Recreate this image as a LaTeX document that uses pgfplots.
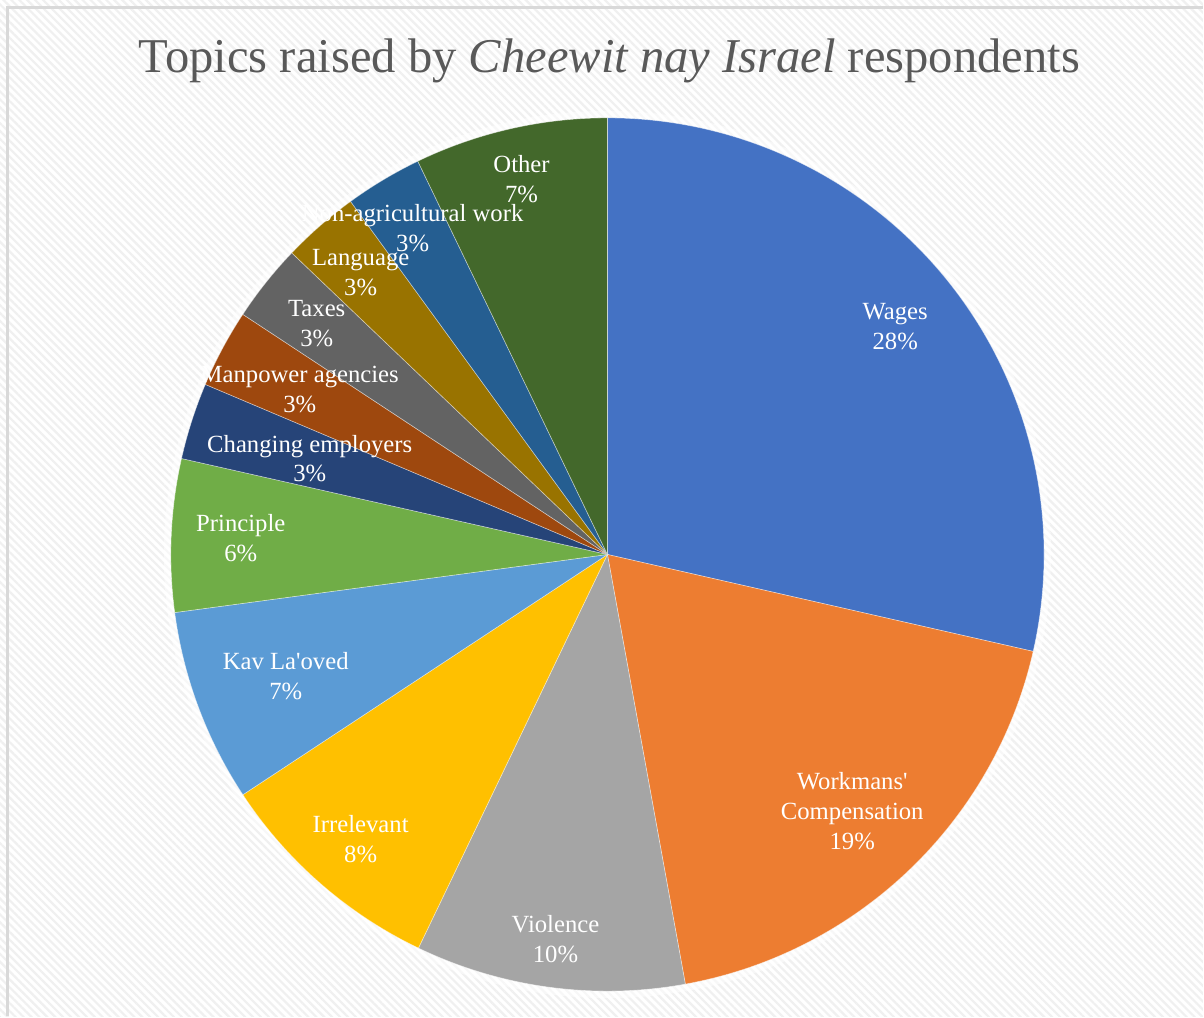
\documentclass[border=0pt]{standalone}
\usepackage{pgfplots}
\pgfplotsset{compat=1.18}
\usepackage{pgfplotstable}
\usepackage{fontspec}
\setmainfont{Liberation Serif}
\usetikzlibrary{patterns.meta}

\definecolor{cWages}{HTML}{4472C4}
\definecolor{cWork}{HTML}{ED7D31}
\definecolor{cViol}{HTML}{A5A5A5}
\definecolor{cIrr}{HTML}{FFC000}
\definecolor{cKav}{HTML}{5B9BD5}
\definecolor{cPrin}{HTML}{70AD47}
\definecolor{cChg}{HTML}{264478}
\definecolor{cMan}{HTML}{9E480E}
\definecolor{cTax}{HTML}{636363}
\definecolor{cLang}{HTML}{997300}
\definecolor{cNon}{HTML}{255E91}
\definecolor{cOth}{HTML}{43682B}
\definecolor{titlegray}{HTML}{595959}
\definecolor{bordergray}{HTML}{D9D9D9}

% share of each topic (percent), clockwise from 12 o'clock
\pgfplotstableread{
value color
28.56 cWages
18.58 cWork
9.98  cViol
8.60  cIrr
7.15  cKav
5.65  cPrin
2.84  cChg
2.90  cMan
2.87  cTax
2.85  cLang
2.86  cNon
7.15  cOth
}\piedata

\pgfplotstablegetrowsof{\piedata}
\pgfmathtruncatemacro{\lastrow}{\pgfplotsretval-1}
\xdef\pietotal{0}
\foreach \i in {0,...,\lastrow}{%
  \pgfplotstablegetelem{\i}{value}\of\piedata
  \pgfmathsetmacro{\t}{\pietotal+\pgfplotsretval}%
  \xdef\pietotal{\t}%
}
\xdef\piecum{90}
\foreach \i in {0,...,\lastrow}{%
  \pgfplotstablegetelem{\i}{value}\of\piedata
  \pgfmathsetmacro{\e}{\piecum-360*\pgfplotsretval/\pietotal}%
  \expandafter\xdef\csname psa\i\endcsname{\piecum}%
  \expandafter\xdef\csname pea\i\endcsname{\e}%
  \pgfplotstablegetelem{\i}{color}\of\piedata
  \expandafter\xdef\csname pcol\i\endcsname{\pgfplotsretval}%
  \xdef\piecum{\e}%
}

\begin{document}
\begin{tikzpicture}
\begin{axis}[
  width=602bp, height=508.5bp, scale only axis,
  xmin=0, xmax=1204, ymin=0, ymax=1017,
  axis lines=none, ticks=none, clip=false,
]
% background
\fill[white] (axis cs:0,0) rectangle (axis cs:1204,1017);
\fill[pattern={Lines[angle=-45,distance=2.8bp,line width=1.1bp]}, pattern color=black!6]
  (axis cs:0,0) rectangle (axis cs:1204,1017);
\draw[bordergray, line width=1.1bp] (axis cs:7.5,0) -- (axis cs:7.5,1009.5) -- (axis cs:1204,1009.5);
% soft halo around pie
\fill[white, opacity=0.5] (axis cs:608,462) circle[radius=222bp];
% slices
\pgfplotsinvokeforeach{0,...,\lastrow}{
  \fill[fill=\csname pcol#1\endcsname, draw=white, draw opacity=0.5, line width=0.3bp]
    (axis cs:608,462) -- ++(\csname psa#1\endcsname:218.5bp)
    arc[start angle=\csname psa#1\endcsname, end angle=\csname pea#1\endcsname, radius=218.5bp] -- cycle;
}
% title
\node[font=\fontsize{24.4}{29}\selectfont, text=titlegray, anchor=base] at (axis cs:610,944)
  {Topics raised by \textit{Cheewit nay Israel} respondents};
% data labels
\begin{scope}[every node/.style={text=white, align=center, font=\fontsize{12.4}{15}\selectfont, inner sep=0pt}]
\node at (axis cs:896,690) {Wages\\28\%};
\node at (axis cs:853,205) {Workmans\textquotesingle\\Compensation\\19\%};
\node at (axis cs:556,77) {Violence\\10\%};
\node at (axis cs:361,177) {Irrelevant\\8\%};
\node at (axis cs:286,340) {Kav La\textquotesingle oved\\7\%};
\node at (axis cs:241,478) {Principle\\6\%};
\node at (axis cs:310,558) {Changing employers\\3\%};
\node at (axis cs:300,627) {Manpower agencies\\3\%};
\node at (axis cs:317,693) {Taxes\\3\%};
\node at (axis cs:361,744) {Language\\3\%};
\node at (axis cs:413,789) {Non-agricultural work\\3\%};
\node at (axis cs:522,838) {Other\\7\%};
\end{scope}
\end{axis}
\end{tikzpicture}
\end{document}
